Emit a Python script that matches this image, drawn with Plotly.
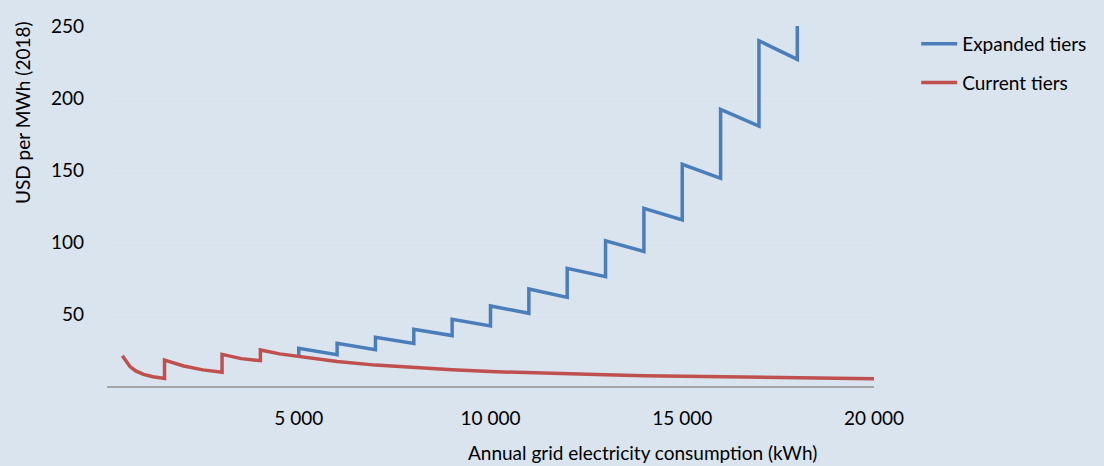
import plotly.graph_objects as go

# Current tiers (kWh, USD/MWh)
current_x = [400, 500, 600, 750, 950, 1200, 1500, 1500, 2000, 2500, 3000, 3000, 3500, 4000, 4000, 4500,
             5000, 6000, 7000, 8000, 9000, 10000, 11000, 12000, 13000, 14000, 15000, 16000, 17000, 18000,
             19000, 20000]
current_y = [21.0, 17.0, 13.5, 10.5, 8.1, 6.4, 5.3, 18.0, 13.9, 11.2, 9.5, 22.0, 19.0, 17.6, 25.0, 22.3,
             20.4, 17.0, 14.5, 12.7, 11.2, 10.0, 9.1, 8.4, 7.8, 7.2, 6.7, 6.3, 5.9, 5.6, 5.3, 5.0]

# Expanded tiers
expanded_x = [5000, 5000, 6000, 6000, 7000, 7000, 8000, 8000, 9000, 9000, 10000, 10000, 11000, 11000,
              12000, 12000, 13000, 13000, 14000, 14000, 15000, 15000, 16000, 16000, 17000, 17000,
              18000, 18000]
expanded_y = [20.4, 26.2, 21.7, 29.6, 25.2, 33.8, 29.6, 39.4, 35.0, 46.3, 41.7, 55.6, 50.5, 67.4,
              61.5, 81.7, 75.9, 100.9, 93.5, 123.4, 115.3, 154.0, 144.2, 192.1, 180.5, 239.8,
              226.8, 300.0]

x_tickvals = [5000, 10000, 15000, 20000]
x_ticktext = ["5 000", "10 000", "15 000", "20 000"]
y_tickvals = [50, 100, 150, 200, 250]
y_ticktext = ["50", "100", "150", "200", "250"]

BG = "#d9e4ee"
FONT = "Lato"

fig = go.Figure()
fig.add_trace(go.Scatter(x=expanded_x, y=expanded_y, mode="lines", name="Expanded tiers",
                         line=dict(color="#4a7ebb", width=3.5), legendgroup="a"))
fig.add_trace(go.Scatter(x=current_x, y=current_y, mode="lines", name="Current tiers",
                         line=dict(color="#c0504d", width=3.5), legendgroup="b"))

fig.update_layout(
    width=1104, height=466,
    margin=dict(l=107, r=230, t=26, b=80),
    paper_bgcolor=BG, plot_bgcolor=BG,
    font=dict(family=FONT, size=19, color="#000000"),
    showlegend=True,
    legend=dict(x=1.055, y=1.003, xanchor="left", yanchor="top", bgcolor="rgba(0,0,0,0)",
                font=dict(size=19), traceorder="grouped", tracegroupgap=11, itemwidth=36),
    xaxis=dict(range=[0, 20000], tickvals=x_tickvals, ticktext=x_ticktext, showgrid=False,
               showline=True, linecolor="#a6a6a6", linewidth=2, zeroline=False,
               ticks="", ticklabelstandoff=14, tickfont=dict(size=19)),
    yaxis=dict(range=[0, 250], tickvals=y_tickvals, ticktext=y_ticktext, showgrid=True,
               gridcolor="#e3e5e8", gridwidth=1, zeroline=False, showline=False,
               ticks="", ticklabelstandoff=22, tickfont=dict(size=19)),
    annotations=[
        dict(text="Annual grid electricity consumption (kWh)", xref="paper", yref="paper",
             x=0.698, y=-0.185, xanchor="center", yanchor="middle", showarrow=False,
             font=dict(size=19)),
        dict(text="USD per MWh (2018)", xref="paper", yref="paper", textangle=-90,
             x=-0.11, y=0.76, xanchor="center", yanchor="middle", showarrow=False,
             font=dict(size=19)),
    ],
)

fig.write_html("out.html", config={"displayModeBar": False},
               post_script="document.body.style.margin='0';document.body.style.background='" + BG + "';")
